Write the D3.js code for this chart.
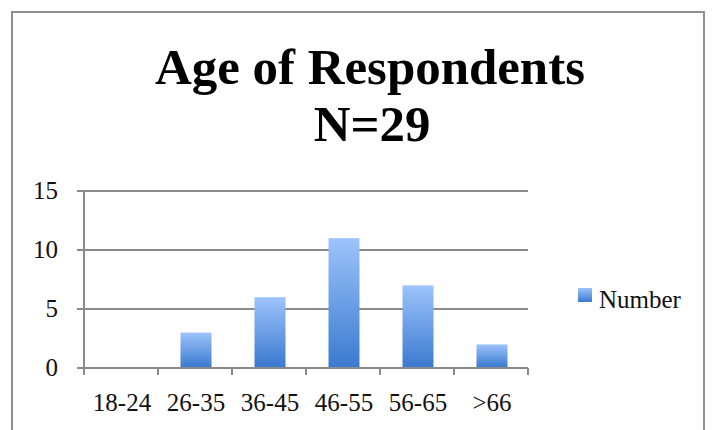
<!DOCTYPE html>
<html><head><meta charset="utf-8">
<script src="https://cdn.jsdelivr.net/npm/d3@7"></script>
<style>body{margin:0;background:#fff}svg{display:block}</style>
</head><body>
<svg id="c" width="716" height="430"></svg>
<script>
const categories = ["18-24","26-35","36-45","46-55","56-65",">66"];
const values = [0,3,6,11,7,2];
const yTicks = [0,5,10,15];
const seriesName = "Number";
const titleLines = ["Age of Respondents","N=29"];

const svg = d3.select("#c");
const font = "'Liberation Serif', 'Times New Roman', serif";
const grey = "#8a8a8a";

// frame
svg.append("path").attr("d","M12,431 L12,12 L704,12 L704,431")
  .attr("fill","none").attr("stroke","#8f8f8f").attr("stroke-width",2);

// gradient
const defs = svg.append("defs");
const g = defs.append("linearGradient").attr("id","bg").attr("x1",0).attr("y1",0).attr("x2",0).attr("y2",1);
g.append("stop").attr("offset","0%").attr("stop-color","#9dc3fb");
g.append("stop").attr("offset","100%").attr("stop-color","#3b7ad0");

const x = d3.scaleBand().domain(categories).range([84,528]).paddingInner(0).paddingOuter(0);
const y = d3.scaleLinear().domain([0,15]).range([368,191]);

// gridlines
svg.append("g").selectAll("line").data(yTicks).join("line")
  .attr("x1",77).attr("x2",528).attr("y1",d=>y(d)).attr("y2",d=>y(d))
  .attr("stroke",grey).attr("stroke-width",2);
// y axis line
svg.append("line").attr("x1",84).attr("x2",84).attr("y1",y(15)).attr("y2",y(0)+7)
  .attr("stroke",grey).attr("stroke-width",2);
// x ticks
const edges = categories.map(c=>x(c)+x.bandwidth());
svg.append("g").selectAll("line").data(edges).join("line")
  .attr("x1",d=>d).attr("x2",d=>d).attr("y1",y(0)).attr("y2",y(0)+7)
  .attr("stroke",grey).attr("stroke-width",2);

// y labels
svg.append("g").selectAll("text").data(yTicks).join("text")
  .attr("x",58).attr("y",d=>y(d)+8).attr("text-anchor","end")
  .attr("font-family",font).attr("font-size",25).attr("fill","#111").text(d=>d);

// x labels
svg.append("g").selectAll("text").data(categories).join("text")
  .attr("x",d=>x(d)+x.bandwidth()/2+1).attr("y",411).attr("text-anchor","middle")
  .attr("font-family",font).attr("font-size",25).attr("fill","#111").text(d=>d);

// bars
const bw = 31;
const barData = values.map((v,i)=>({c:categories[i],v})).filter(d=>d.v>0);
svg.append("g").selectAll("rect").data(barData).join("rect")
  .attr("x",d=>x(d.c)+x.bandwidth()/2+1-bw/2).attr("width",bw)
  .attr("y",d=>y(d.v)).attr("height",d=>y(0)-y(d.v)-1)
  .attr("fill","url(#bg)");

// title
const t1 = svg.append("text").attr("x",370).attr("y",84).attr("text-anchor","middle")
  .attr("font-family",font).attr("font-weight","bold").attr("font-size",44).attr("fill","#000").text(titleLines[0]);
const t2 = svg.append("text").attr("x",372).attr("y",141).attr("text-anchor","middle")
  .attr("font-family",font).attr("font-weight","bold").attr("font-size",44).attr("fill","#000").text(titleLines[1]);
const w1 = t1.node().getComputedTextLength();
const fs = 44*430/w1;
t1.attr("font-size",fs); t2.attr("font-size",fs);

// legend
svg.append("rect").attr("x",578).attr("y",288).attr("width",14).attr("height",14).attr("fill","url(#bg)");
svg.append("text").attr("x",599).attr("y",308).attr("font-family",font).attr("font-size",25)
  .attr("fill","#111").text(seriesName);
</script>
</body></html>
